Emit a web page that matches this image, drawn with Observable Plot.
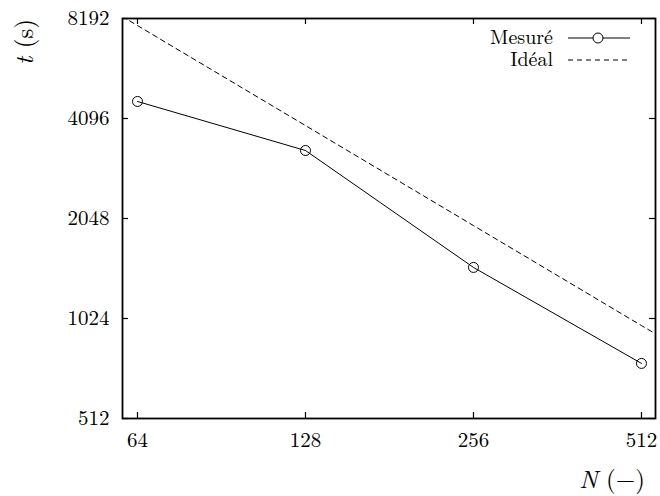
<!DOCTYPE html>
<html>
<head>
<meta charset="utf-8">
<script src="https://cdn.jsdelivr.net/npm/d3@7"></script>
<script src="https://cdn.jsdelivr.net/npm/@observablehq/plot@0.6"></script>
<style>
  html, body { margin: 0; padding: 0; background: #fff; }
  #chart { width: 660px; height: 496px; }
  #chart text { font-family: 'Latin Modern Roman', 'Liberation Serif', serif; }
</style>
</head>
<body>
<div id="chart"></div>
<script>
// Data
const xTicks = [64, 128, 256, 512];
const yTicks = [512, 1024, 2048, 4096, 8192];
const N = [64, 128, 256, 512];
const measured = [4609, 3281, 1459, 750];
const idealN = [60, 64, 128, 256, 512, 543];
const idealT = [8320, 7800, 3900, 1950, 975, 920];
const seriesNames = ["Mesuré", "Idéal"];

const measuredData = N.map((n, i) => ({n, t: measured[i]}));
const idealData = idealN.map((n, i) => ({n, t: idealT[i]}));

const font = "'Latin Modern Roman', 'Liberation Serif', serif";
const W = 660, H = 496, mL = 122, mR = 5, mT = 18, mB = 78;
const innerW = W - mL - mR, innerH = H - mT - mB;
const tick = 6;

const chart = Plot.plot({
  width: W, height: H,
  marginLeft: mL, marginRight: mR, marginTop: mT, marginBottom: mB,
  style: {fontFamily: font, fontSize: "21px", color: "#000", background: "#fff"},
  x: {type: "log", base: 2, domain: [60.16, 542.5], label: null},
  y: {type: "log", base: 2, domain: [512, 8192], label: null},
  marks: [
    Plot.ruleX(xTicks, {x: d => d, insetTop: innerH - tick, stroke: "#000", strokeWidth: 1.2}),
    Plot.ruleX(xTicks, {x: d => d, insetBottom: innerH - tick, stroke: "#000", strokeWidth: 1.2}),
    Plot.ruleY(yTicks, {y: d => d, insetRight: innerW - tick, stroke: "#000", strokeWidth: 1.2}),
    Plot.ruleY(yTicks, {y: d => d, insetLeft: innerW - tick, stroke: "#000", strokeWidth: 1.2}),
    Plot.axisX(xTicks, {tickSize: 0, tickPadding: 14, tickFormat: d => String(d), fontSize: 21, fontFamily: font}),
    Plot.axisY(yTicks, {tickSize: 0, tickPadding: 13, tickFormat: d => String(d), fontSize: 21, fontFamily: font}),
    Plot.line(idealData, {x: "n", y: "t", stroke: "#000", strokeWidth: 1, strokeDasharray: "5,4", clip: true}),
    Plot.line(measuredData, {x: "n", y: "t", stroke: "#000", strokeWidth: 1}),
    Plot.dot(measuredData, {x: "n", y: "t", r: 5, stroke: "#000", fill: "none", strokeWidth: 1}),
    Plot.frame({stroke: "#000", strokeWidth: 1.8})
  ]
});
document.getElementById("chart").appendChild(chart);

// Axis titles and legend (layout only)
const svg = d3.select(chart);
const yl = svg.append("text")
  .attr("transform", "translate(33,42) rotate(-90)")
  .attr("text-anchor", "middle")
  .style("font-family", font).style("font-size", "25px");
yl.append("tspan").attr("font-style", "italic").text("t");
yl.append("tspan").text(" (s)");

const xl = svg.append("text")
  .attr("x", 645).attr("y", 488)
  .attr("text-anchor", "end")
  .style("font-family", font).style("font-size", "25px");
xl.append("tspan").attr("font-style", "italic").text("N");
xl.append("tspan").text(" (−)");

const leg = svg.append("g").style("font-family", font).style("font-size", "20px");
const rows = [{y: 38, dash: null, marker: true}, {y: 60, dash: "5,4", marker: false}];
rows.forEach((r, i) => {
  leg.append("text").attr("x", 553).attr("y", r.y).attr("dy", "0.3em")
    .attr("text-anchor", "end").text(seriesNames[i]);
  leg.append("line").attr("x1", 568).attr("x2", 630).attr("y1", r.y).attr("y2", r.y)
    .attr("stroke", "#000").attr("stroke-width", 1)
    .attr("stroke-dasharray", r.dash);
  if (r.marker) leg.append("circle").attr("cx", 598).attr("cy", r.y).attr("r", 5)
    .attr("fill", "#fff").attr("stroke", "#000");
});
</script>
</body>
</html>
